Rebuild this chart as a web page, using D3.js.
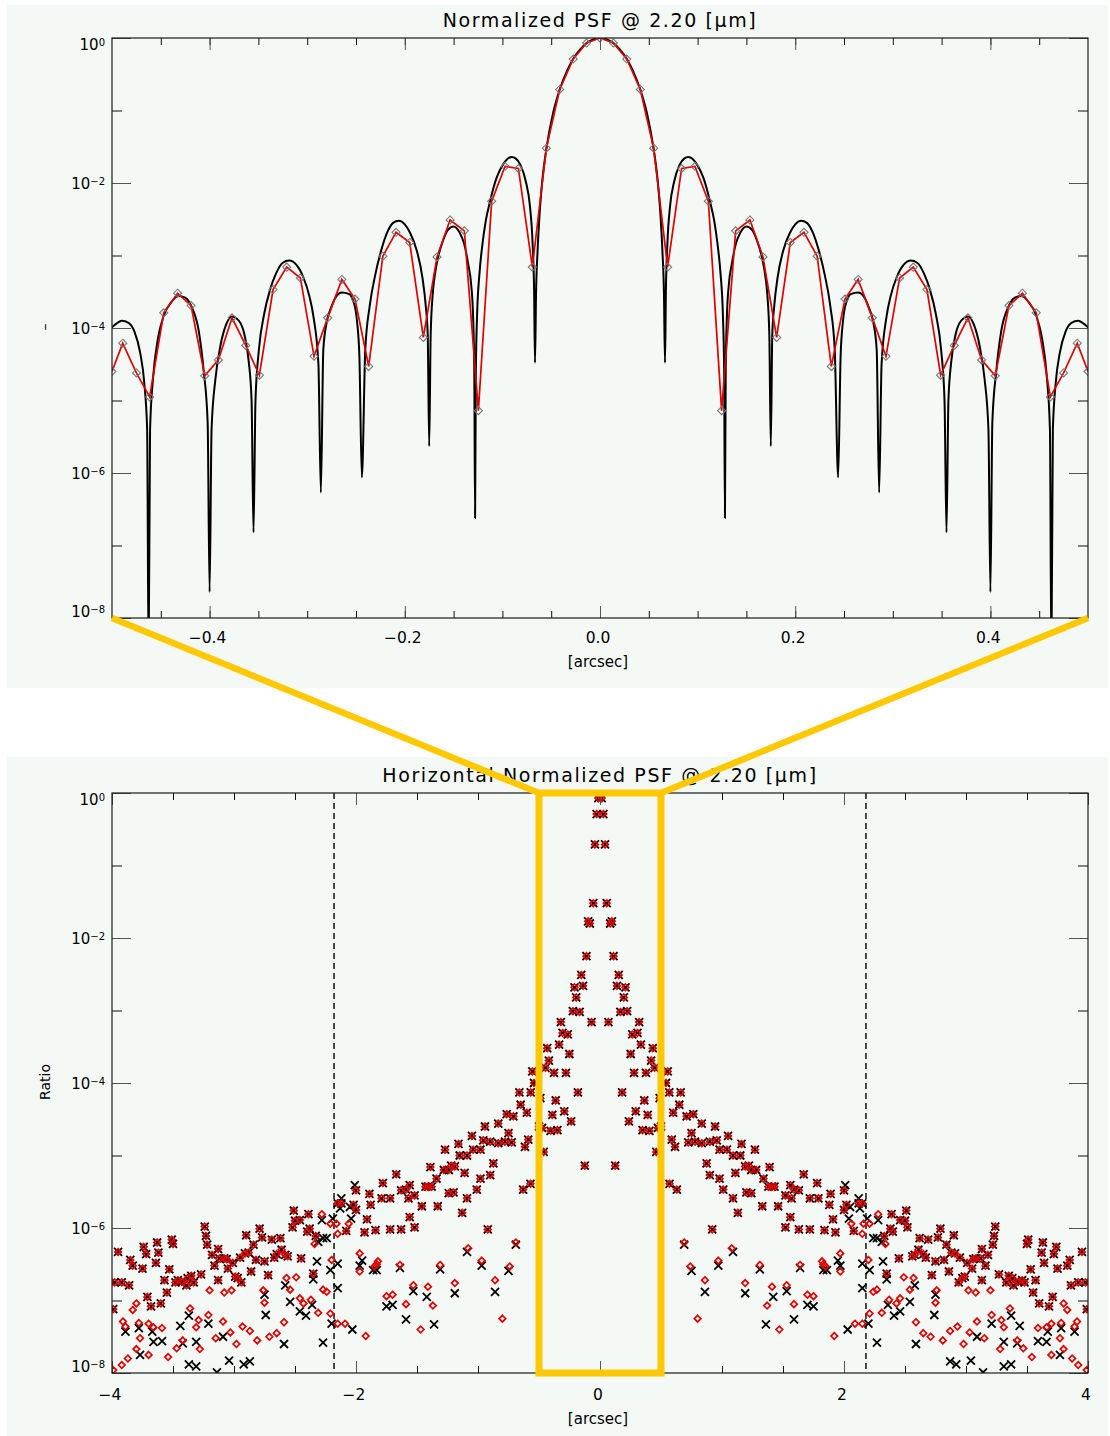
<!DOCTYPE html>
<html>
<head>
<meta charset="utf-8">
<script src="https://cdn.jsdelivr.net/npm/d3@7"></script>
<style>
  body { margin: 0; background: #ffffff; }
  svg { display: block; }
  text { font-family: "DejaVu Sans", sans-serif; fill: #000; }
</style>
</head>
<body>
<svg id="chart" width="1110" height="1436"></svg>
<script>
// ---------------------------------------------------------------------------
// Data (values are log10 of the normalised intensity)
// ---------------------------------------------------------------------------

// Diffraction-limited model profile, x in arcsec
const modelProfile = [
  [-0.5,-3.99],[-0.4965,-3.95],[-0.49,-3.9],[-0.483,-3.93],[-0.477,-4.05],[-0.471,-4.35],[-0.467,-4.75],[-0.464,-5.4],[-0.4625,-8.6],[-0.461,-5.4],[-0.458,-4.7],[-0.453,-4.15],[-0.447,-3.83],[-0.439,-3.64],[-0.432,-3.56],[-0.425,-3.58],[-0.418,-3.72],[-0.411,-4.05],[-0.406,-4.6],[-0.402,-5.3],[-0.4,-7.64],[-0.398,-5.4],[-0.394,-4.7],[-0.389,-4.25],[-0.383,-3.95],[-0.377,-3.84],[-0.37,-3.9],[-0.3645,-4.08],[-0.36,-4.45],[-0.357,-5],[-0.355,-6.82],[-0.353,-5],[-0.3495,-4.3],[-0.344,-3.8],[-0.338,-3.47],[-0.332,-3.25],[-0.325,-3.1],[-0.3184,-3.07],[-0.311,-3.13],[-0.304,-3.3],[-0.298,-3.55],[-0.2935,-3.85],[-0.2885,-4.5],[-0.286,-6.27],[-0.2835,-4.3],[-0.28,-3.92],[-0.2755,-3.72],[-0.27,-3.56],[-0.2645,-3.51],[-0.2575,-3.53],[-0.2525,-3.64],[-0.249,-3.9],[-0.2465,-4.4],[-0.244,-6.06],[-0.2405,-4.3],[-0.236,-3.7],[-0.23,-3.25],[-0.224,-2.92],[-0.218,-2.68],[-0.212,-2.55],[-0.206,-2.52],[-0.2,-2.57],[-0.1945,-2.69],[-0.188,-2.92],[-0.182,-3.3],[-0.1785,-3.7],[-0.1765,-4.1],[-0.175,-5.63],[-0.1735,-4.1],[-0.1715,-3.55],[-0.169,-3.25],[-0.1655,-3],[-0.161,-2.8],[-0.156,-2.65],[-0.15,-2.6],[-0.144,-2.68],[-0.139,-2.85],[-0.135,-3.12],[-0.132,-3.4],[-0.13,-3.85],[-0.1288,-4.6],[-0.128,-6.62],[-0.1272,-4.6],[-0.126,-3.85],[-0.1235,-3.25],[-0.1205,-2.85],[-0.117,-2.52],[-0.1126,-2.25],[-0.106,-1.93],[-0.1,-1.76],[-0.095,-1.67],[-0.0904,-1.64],[-0.0865,-1.66],[-0.0815,-1.75],[-0.076,-1.98],[-0.0717,-2.33],[-0.069,-2.85],[-0.0675,-3.5],[-0.0666,-4.48],[-0.0655,-3.5],[-0.064,-2.95],[-0.062,-2.45],[-0.059,-1.95],[-0.0546,-1.5],[-0.048,-1.03],[-0.041,-0.7],[-0.034,-0.46],[-0.0274,-0.285],[-0.0205,-0.16],[-0.0137,-0.07],[-0.007,-0.02],
  [0,0],
  [0.007,-0.02],[0.0137,-0.07],[0.0205,-0.16],[0.0274,-0.285],[0.034,-0.46],[0.041,-0.7],[0.048,-1.03],[0.0546,-1.5],[0.059,-1.95],[0.062,-2.45],[0.064,-2.95],[0.0655,-3.5],[0.0666,-4.48],[0.0675,-3.5],[0.069,-2.85],[0.0717,-2.33],[0.076,-1.98],[0.0815,-1.75],[0.0865,-1.66],[0.0904,-1.64],[0.095,-1.67],[0.1,-1.76],[0.106,-1.93],[0.1126,-2.25],[0.117,-2.52],[0.1205,-2.85],[0.1235,-3.25],[0.126,-3.85],[0.1272,-4.6],[0.128,-6.62],[0.1288,-4.6],[0.13,-3.85],[0.132,-3.4],[0.135,-3.12],[0.139,-2.85],[0.144,-2.68],[0.15,-2.6],[0.156,-2.65],[0.161,-2.8],[0.1655,-3],[0.169,-3.25],[0.1715,-3.55],[0.1735,-4.1],[0.175,-5.63],[0.1765,-4.1],[0.1785,-3.7],[0.182,-3.3],[0.188,-2.92],[0.1945,-2.69],[0.2,-2.57],[0.206,-2.52],[0.212,-2.55],[0.218,-2.68],[0.224,-2.92],[0.23,-3.25],[0.236,-3.7],[0.2405,-4.3],[0.244,-6.06],[0.2465,-4.4],[0.249,-3.9],[0.2525,-3.64],[0.2575,-3.53],[0.2645,-3.51],[0.27,-3.56],[0.2755,-3.72],[0.28,-3.92],[0.2835,-4.3],[0.286,-6.27],[0.2885,-4.5],[0.2935,-3.85],[0.298,-3.55],[0.304,-3.3],[0.311,-3.13],[0.3184,-3.07],[0.325,-3.1],[0.332,-3.25],[0.338,-3.47],[0.344,-3.8],[0.3495,-4.3],[0.353,-5],[0.355,-6.82],[0.357,-5],[0.36,-4.45],[0.3645,-4.08],[0.37,-3.9],[0.377,-3.84],[0.383,-3.95],[0.389,-4.25],[0.394,-4.7],[0.398,-5.4],[0.4,-7.64],[0.402,-5.3],[0.406,-4.6],[0.411,-4.05],[0.418,-3.72],[0.425,-3.58],[0.432,-3.56],[0.439,-3.64],[0.447,-3.83],[0.453,-4.15],[0.458,-4.7],[0.461,-5.4],[0.4625,-8.6],[0.464,-5.4],[0.467,-4.75],[0.471,-4.35],[0.477,-4.05],[0.483,-3.93],[0.49,-3.9],[0.4965,-3.95],[0.5,-3.99]
];

// Pixel-sampled profile along the horizontal cut (one value per detector pixel)
const sampledProfile = [
  [-0.5,-4.6],[-0.489,-4.21],[-0.475,-4.62],[-0.4614,-4.95],[-0.447,-3.79],[-0.4328,-3.52],[-0.419,-3.69],[-0.405,-4.66],[-0.391,-4.44],[-0.377,-3.86],[-0.363,-4.24],[-0.349,-4.65],[-0.335,-3.47],[-0.321,-3.16],[-0.307,-3.31],[-0.293,-4.39],[-0.279,-3.86],[-0.2645,-3.33],[-0.251,-3.6],[-0.237,-4.53],[-0.2225,-3.01],[-0.209,-2.68],[-0.195,-2.82],[-0.181,-4.13],[-0.167,-3.02],[-0.1536,-2.51],[-0.139,-2.66],[-0.1246,-5.14],[-0.111,-2.25],[-0.0973,-1.77],[-0.0836,-1.8],[-0.0693,-3.16],[-0.055,-1.52],[-0.0413,-0.71],[-0.0274,-0.29],[-0.0137,-0.07],
  [0,0],
  [0.0137,-0.07],[0.0274,-0.29],[0.0413,-0.71],[0.055,-1.52],[0.0693,-3.16],[0.0836,-1.8],[0.0973,-1.77],[0.111,-2.25],[0.1246,-5.14],[0.139,-2.66],[0.1536,-2.51],[0.167,-3.02],[0.181,-4.13],[0.195,-2.82],[0.209,-2.68],[0.2225,-3.01],[0.237,-4.53],[0.251,-3.6],[0.2645,-3.33],[0.279,-3.86],[0.293,-4.39],[0.307,-3.31],[0.321,-3.16],[0.335,-3.47],[0.349,-4.65],[0.363,-4.24],[0.377,-3.86],[0.391,-4.44],[0.405,-4.66],[0.419,-3.69],[0.4328,-3.52],[0.447,-3.79],[0.4614,-4.95],[0.475,-4.62],[0.489,-4.21],[0.5,-4.6]
];

// Halo pixels where both estimates agree (black cross and red diamond)
const wingBoth = [
  [-0.555,-3.84],[-0.541,-4],[-0.661,-4.13],[-0.568,-4.13],[-0.65,-4.3],[-0.765,-4.43],[-0.71,-4.46],[-0.6,-4.41],[-0.943,-4.6],[-0.834,-4.56],[-0.75,-4.69],[-0.957,-4.79],[-0.9,-4.81],[-0.834,-4.83],[-0.779,-4.81],[-0.724,-4.82],[-0.588,-4.78],[-0.615,-4.88],[-0.874,-5.11],[-0.9,-5.27],[-0.63,-5.47],[-0.57,-5.39],[-0.92,-6.02],[-1.01,-5.47],
  [-1.05,-4.73],[-1.16,-4.84],[-1.04,-4.92],[-0.98,-4.92],[-1.15,-5],[-1.09,-5],[-1.27,-4.92],[-1.28,-5.2],[-1.24,-5.2],[-1.22,-5.14],[-1.19,-5.15],[-1.11,-5.24],[-0.98,-5.32],[-1.39,-5.16],[-1.34,-5.32],[-1.2,-5.51],[-1.09,-5.59],[-1.13,-5.79],[-1.24,-5.52],[-1.33,-5.7],[-1.43,-5.43],[-1.41,-5.43],[-1.38,-5.43],[-1.46,-5.7],[-1.52,-5.55],[-1.52,-5.99],[-1.56,-5.41],[-1.59,-5.47],[-1.57,-5.59],[-1.63,-5.48],[-1.67,-5.26],[-1.72,-5.59],[-1.78,-5.38],[-1.79,-5.59],[-1.56,-5.85],[-1.63,-6.02],[-1.72,-6.02],[-1.84,-6.03],[-1.89,-5.53],[-1.88,-5.68],[-1.91,-5.88],[-1.93,-6.06],[-2,-5.48],[-2.02,-5.68],[-2,-5.75],[-2.08,-6.04],[-2.15,-5.66],[-2.12,-5.66],[-2.33,-6.11],[-2.35,-6.63],[-2.38,-6.01],[-2.39,-5.81],[-2.4,-6.05],[-2.46,-5.89],[-2.45,-6.42],[-2.5,-5.9],[-2.52,-5.99],[-2.51,-5.76],[-2.56,-6.39],[-2.58,-6.37],[-2.61,-6.3],[-2.62,-6.14],[-2.65,-6.36],[-2.67,-6.41],[-2.69,-6.16],[-2.72,-6.65],[-2.75,-6.46],[-2.77,-6.13],[-2.79,-6.01],[-2.82,-6.44],[-2.84,-6.23],[-2.86,-6.6],[-2.88,-6.34],[-2.91,-6.35],[-2.9,-6.1],[-2.94,-6.75],[-2.95,-6.41],[-2.99,-6.67],[-2.97,-6.69],[-3.01,-6.48],[-3.05,-6.56],[-3.06,-6.43],[-3.08,-6.42],[-3.12,-6.42],[-3.13,-6.29],[-3.13,-6.72],[-3.16,-6.52],[-3.18,-6.37],[-3.22,-6.23],[-3.23,-6.11],[-3.24,-5.98],[-3.27,-6.64],[-3.33,-6.75],[-3.35,-6.66],[-3.38,-6.69],[-3.39,-6.79],[-3.43,-6.74],[-3.46,-6.72],[-3.48,-6.75],[-3.5,-6.22],[-3.51,-6.16],[-3.53,-6.57],[-3.55,-6.89],[-3.57,-6.72],[-3.6,-7.04],[-3.62,-6.34],[-3.63,-6.2],[-3.64,-6.48],[-3.68,-7.08],[-3.71,-6.95],[-3.72,-6.36],[-3.74,-6.26],[-3.75,-6.56],[-3.83,-6.52],[-3.85,-6.44],[-3.86,-6.79],[-3.92,-6.75],[-3.98,-6.75],[-3.95,-6.33],[-3.99,-7.12],
  [0.555,-3.84],[0.541,-4],[0.661,-4.13],[0.568,-4.13],[0.65,-4.3],[0.765,-4.43],[0.71,-4.46],[0.6,-4.41],[0.943,-4.6],[0.834,-4.56],[0.75,-4.69],[0.957,-4.79],[0.9,-4.81],[0.834,-4.83],[0.779,-4.81],[0.724,-4.82],[0.588,-4.78],[0.615,-4.88],[0.874,-5.11],[0.9,-5.27],[0.63,-5.47],[0.57,-5.39],[0.92,-6.02],[1.01,-5.47],
  [1.05,-4.73],[1.16,-4.84],[1.04,-4.92],[0.98,-4.92],[1.15,-5],[1.09,-5],[1.27,-4.92],[1.28,-5.2],[1.24,-5.2],[1.22,-5.14],[1.19,-5.15],[1.11,-5.24],[0.98,-5.32],[1.39,-5.16],[1.34,-5.32],[1.2,-5.51],[1.09,-5.59],[1.13,-5.79],[1.24,-5.52],[1.33,-5.7],[1.43,-5.43],[1.41,-5.43],[1.38,-5.43],[1.46,-5.7],[1.52,-5.55],[1.52,-5.99],[1.56,-5.41],[1.59,-5.47],[1.57,-5.59],[1.63,-5.48],[1.67,-5.26],[1.72,-5.59],[1.78,-5.38],[1.79,-5.59],[1.56,-5.85],[1.63,-6.02],[1.72,-6.02],[1.84,-6.03],[1.89,-5.53],[1.88,-5.68],[1.91,-5.88],[1.93,-6.06],[2,-5.48],[2.02,-5.68],[2,-5.75],[2.08,-6.04],[2.15,-5.66],[2.12,-5.66],[2.33,-6.11],[2.35,-6.63],[2.38,-6.01],[2.39,-5.81],[2.4,-6.05],[2.46,-5.89],[2.45,-6.42],[2.5,-5.9],[2.52,-5.99],[2.51,-5.76],[2.56,-6.39],[2.58,-6.37],[2.61,-6.3],[2.62,-6.14],[2.65,-6.36],[2.67,-6.41],[2.69,-6.16],[2.72,-6.65],[2.75,-6.46],[2.77,-6.13],[2.79,-6.01],[2.82,-6.44],[2.84,-6.23],[2.86,-6.6],[2.88,-6.34],[2.91,-6.35],[2.9,-6.1],[2.94,-6.75],[2.95,-6.41],[2.99,-6.67],[2.97,-6.69],[3.01,-6.48],[3.05,-6.56],[3.06,-6.43],[3.08,-6.42],[3.12,-6.42],[3.13,-6.29],[3.13,-6.72],[3.16,-6.52],[3.18,-6.37],[3.22,-6.23],[3.23,-6.11],[3.24,-5.98],[3.27,-6.64],[3.33,-6.75],[3.35,-6.66],[3.38,-6.69],[3.39,-6.79],[3.43,-6.74],[3.46,-6.72],[3.48,-6.75],[3.5,-6.22],[3.51,-6.16],[3.53,-6.57],[3.55,-6.89],[3.57,-6.72],[3.6,-7.04],[3.62,-6.34],[3.63,-6.2],[3.64,-6.48],[3.68,-7.08],[3.71,-6.95],[3.72,-6.36],[3.74,-6.26],[3.75,-6.56],[3.83,-6.52],[3.85,-6.44],[3.86,-6.79],[3.92,-6.75],[3.98,-6.75],[3.95,-6.33],[3.99,-7.12]
];

// Halo pixels seen only in the red estimate
const wingRed = [
  [-3.91,-7.29],[-3.89,-7.36],[-3.8,-7.04],[-3.83,-7.13],[-3.78,-7.31],[-3.77,-7.52],[-3.7,-7.32],[-3.66,-7.37],[-3.59,-7.38],[-3.99,-7.96],[-3.92,-7.89],[-3.87,-7.8],[-3.8,-7.67],[-3.7,-7.75],[-3.54,-7.78],[-3.47,-7.66],[-3.42,-7.55],[-3.36,-7.11],[-3.29,-7.27],[-3.31,-7.37],[-3.28,-7.67],[-3.21,-7.2],[-3.15,-7.52],[-3.09,-7.29],[-3.03,-7.44],[-2.98,-7.6],[-2.93,-7.36],[-2.87,-7.42],[-2.81,-7.55],[-2.71,-7.5],[-2.65,-7.45],[-2.59,-7.3],[-3.2,-6.86],[-3.08,-6.89],[-3.02,-6.86],[-2.76,-6.86],[-2.75,-7.03],[-2.57,-6.69],[-2.54,-6.85],[-2.49,-6.68],[-2.46,-6.97],[-2.43,-7.04],[-2.37,-6.99],[-2.31,-7.17],[-2.27,-6.85],[-2.24,-6.88],[-2.21,-7.18],[-2.2,-6.44],[-2.15,-7.32],[-2.09,-7.32],[-1.92,-7.49],[-1.97,-6.35],[-1.97,-6.6],[-1.85,-6.53],[-1.83,-6.5],[-1.82,-6.46],[-1.75,-6.94],[-1.7,-6.92],[-1.64,-6.51],[-1.59,-7.05],[-1.53,-6.79],[-1.47,-7.4],[-1.41,-6.81],[-1.37,-7.07],[-1.31,-6.51],[-1.19,-6.76],[-1.08,-6.28],[-0.97,-6.45],[-0.86,-6.72],[-0.8,-7.25],[-0.74,-6.53],[-0.69,-6.2],[-2.06,-5.94],[-2.16,-5.94],[-2.15,-6.08],[-2.21,-5.94],[-2.28,-5.81],[-2.34,-6.22],
  [3.91,-7.29],[3.89,-7.36],[3.8,-7.04],[3.83,-7.13],[3.78,-7.31],[3.77,-7.52],[3.7,-7.32],[3.66,-7.37],[3.59,-7.38],[3.99,-7.96],[3.92,-7.89],[3.87,-7.8],[3.8,-7.67],[3.7,-7.75],[3.54,-7.78],[3.47,-7.66],[3.42,-7.55],[3.36,-7.11],[3.29,-7.27],[3.31,-7.37],[3.28,-7.67],[3.21,-7.2],[3.15,-7.52],[3.09,-7.29],[3.03,-7.44],[2.98,-7.6],[2.93,-7.36],[2.87,-7.42],[2.81,-7.55],[2.71,-7.5],[2.65,-7.45],[2.59,-7.3],[3.2,-6.86],[3.08,-6.89],[3.02,-6.86],[2.76,-6.86],[2.75,-7.03],[2.57,-6.69],[2.54,-6.85],[2.49,-6.68],[2.46,-6.97],[2.43,-7.04],[2.37,-6.99],[2.31,-7.17],[2.27,-6.85],[2.24,-6.88],[2.21,-7.18],[2.2,-6.44],[2.15,-7.32],[2.09,-7.32],[1.92,-7.49],[1.97,-6.35],[1.97,-6.6],[1.85,-6.53],[1.83,-6.5],[1.82,-6.46],[1.75,-6.94],[1.7,-6.92],[1.64,-6.51],[1.59,-7.05],[1.53,-6.79],[1.47,-7.4],[1.41,-6.81],[1.37,-7.07],[1.31,-6.51],[1.19,-6.76],[1.08,-6.28],[0.97,-6.45],[0.86,-6.72],[0.8,-7.25],[0.74,-6.53],[0.69,-6.2],[2.06,-5.94],[2.16,-5.94],[2.15,-6.08],[2.21,-5.94],[2.28,-5.81],[2.34,-6.22]
];

// Halo pixels seen only in the black estimate
const wingBlack = [
  [-3.89,-7.43],[-3.78,-7.38],[-3.77,-7.75],[-3.67,-7.43],[-3.66,-7.57],[-3.59,-7.56],[-3.44,-7.35],[-3.42,-7.59],[-3.37,-7.21],[-3.37,-7.88],[-3.31,-7.91],[-3.31,-7.57],[-3.21,-7.32],[-3.09,-7.5],[-3.04,-7.83],[-2.92,-7.88],[-2.87,-7.84],[-2.74,-7.2],[-2.59,-7.6],[-2.75,-6.92],[-2.58,-6.79],[-2.54,-7.02],[-2.46,-7.15],[-2.41,-7.21],[-2.35,-6.71],[-2.36,-7.06],[-2.32,-6.46],[-2.27,-7.58],[-2.21,-6.58],[-2.2,-7.32],[-2.15,-6.49],[-2.15,-6.83],[-2.03,-7.4],[-1.95,-6.45],[-1.97,-6.52],[-1.86,-6.58],[-1.83,-6.58],[-1.75,-7.08],[-1.7,-7.06],[-1.64,-6.55],[-1.59,-7.26],[-1.53,-6.87],[-1.42,-6.95],[-1.36,-7.33],[-1.31,-6.57],[-1.19,-6.9],[-1.09,-6.33],[-0.97,-6.52],[-0.86,-6.88],[-0.75,-6.59],[-0.69,-6.23],[-2.28,-5.89],[-2.12,-5.59],[-2.05,-5.71],[-2.04,-5.87],[-2.24,-6.14],[-2.27,-6.14],[-2.31,-6.19],[-2.01,-5.41],[-2.13,-5.73],[-2.19,-5.87],[-3.14,-7.99],
  [3.89,-7.43],[3.78,-7.38],[3.77,-7.75],[3.67,-7.43],[3.66,-7.57],[3.59,-7.56],[3.44,-7.35],[3.42,-7.59],[3.37,-7.21],[3.37,-7.88],[3.31,-7.91],[3.31,-7.57],[3.21,-7.32],[3.09,-7.5],[3.04,-7.83],[2.92,-7.88],[2.87,-7.84],[2.74,-7.2],[2.59,-7.6],[2.75,-6.92],[2.58,-6.79],[2.54,-7.02],[2.46,-7.15],[2.41,-7.21],[2.35,-6.71],[2.36,-7.06],[2.32,-6.46],[2.27,-7.58],[2.21,-6.58],[2.2,-7.32],[2.15,-6.49],[2.15,-6.83],[2.03,-7.4],[1.95,-6.45],[1.97,-6.52],[1.86,-6.58],[1.83,-6.58],[1.75,-7.08],[1.7,-7.06],[1.64,-6.55],[1.59,-7.26],[1.53,-6.87],[1.42,-6.95],[1.36,-7.33],[1.31,-6.57],[1.19,-6.9],[1.09,-6.33],[0.97,-6.52],[0.86,-6.88],[0.75,-6.59],[0.69,-6.23],[2.28,-5.89],[2.12,-5.59],[2.05,-5.71],[2.04,-5.87],[2.24,-6.14],[2.27,-6.14],[2.31,-6.19],[2.01,-5.41],[2.13,-5.73],[2.19,-5.87],[3.14,-7.99]
];

// Control-radius markers (arcsec) and the zoomed window (arcsec)
const controlRadius = [-2.18, 2.18];
const zoomWindow = [-0.5, 0.5];

// Axis ticks and labels
const decadeExponents = [0, -1, -2, -3, -4, -5, -6, -7, -8];
const labelledExponents = [0, -2, -4, -6, -8];
const topMinorTicks = [-0.45,-0.4,-0.35,-0.3,-0.25,-0.2,-0.15,-0.1,-0.05,0,0.05,0.1,0.15,0.2,0.25,0.3,0.35,0.4,0.45];
const topMajorTicks = [-0.4, -0.2, 0, 0.2, 0.4];
const topTickLabels = ["\u22120.4", "\u22120.2", "0.0", "0.2", "0.4"];
const botMinorTicks = [-3.5,-3,-2.5,-2,-1.5,-1,-0.5,0,0.5,1,1.5,2,2.5,3,3.5];
const botMajorTicks = [-4, -2, 0, 2, 4];
const botTickLabels = ["\u22124", "\u22122", "0", "2", "4"];

// ---------------------------------------------------------------------------
// Layout
// ---------------------------------------------------------------------------
const PANEL = "#f4f9f5";
const RED = "#e00000";
const GOLD = "#ffc800";

const svg = d3.select("#chart");
svg.append("rect").attr("x", 7).attr("y", 5).attr("width", 1101).attr("height", 683).attr("fill", PANEL);
svg.append("rect").attr("x", 7).attr("y", 757).attr("width", 1101).attr("height", 679).attr("fill", PANEL);

const topX = d3.scaleLinear().domain([-0.5, 0.5]).range([112, 1088]);
const topY = d3.scaleLog().domain([1e-8, 1]).range([618, 38]);
const botX = d3.scaleLinear().domain([-4, 4]).range([112, 1088]);
const botY = d3.scaleLog().domain([1e-8, 1]).range([1373, 793]);

const pow = e => Math.pow(10, e);

function addClip(id, x, y) {
  const [x0, x1] = x.range(), [y0, y1] = y.range();
  svg.append("clipPath").attr("id", id)
    .append("rect").attr("x", x0).attr("y", y1).attr("width", x1 - x0).attr("height", y0 - y1);
}

function drawFrame(x, y, minor, major) {
  const [x0, x1] = x.range(), [y0, y1] = y.range();
  const g = svg.append("g");
  const tickSet = (axisFn, scale, values, len, tx, ty, color) => {
    g.append("g").attr("transform", `translate(${tx},${ty})`)
      .call(axisFn(scale).tickValues(values).tickSize(-len).tickSizeOuter(0).tickFormat(""))
      .call(s => s.select(".domain").remove())
      .selectAll("line").attr("stroke", color).attr("stroke-width", 1);
  };
  const yMinor = decadeExponents.filter(e => e % 2 !== 0).map(pow);
  const yMajor = labelledExponents.map(pow);
  tickSet(d3.axisBottom, x, minor, 7, 0, y0, "#111");
  tickSet(d3.axisBottom, x, major, 12, 0, y0, "#555");
  tickSet(d3.axisTop, x, minor, 7, 0, y1, "#111");
  tickSet(d3.axisTop, x, major, 12, 0, y1, "#555");
  tickSet(d3.axisLeft, y, yMinor, 10, x0, 0, "#111");
  tickSet(d3.axisLeft, y, yMajor, 19, x0, 0, "#555");
  tickSet(d3.axisRight, y, yMinor, 10, x1, 0, "#111");
  tickSet(d3.axisRight, y, yMajor, 19, x1, 0, "#555");
  g.append("rect").attr("x", x0).attr("y", y1).attr("width", x1 - x0).attr("height", y0 - y1)
    .attr("fill", "none").attr("stroke", "#1a1a1a").attr("stroke-width", 1.2);
}

function drawYLabels(y, x0) {
  labelledExponents.forEach(e => {
    const ty = y(pow(e));
    const base = e === 0 ? ty + 12 : (e === -8 ? ty - 1 : ty + 6);
    const t = svg.append("text").attr("x", x0 - 7).attr("y", base)
      .attr("text-anchor", "end").style("font-size", "15px");
    t.append("tspan").text("10");
    t.append("tspan").attr("dy", -4).style("font-size", "10px")
      .text(e === 0 ? "0" : "\u2212" + (-e));
  });
}

function drawXLabels(x, ticks, labels, baseline) {
  ticks.forEach((v, i) => {
    svg.append("text").attr("x", x(v) - 2).attr("y", baseline)
      .attr("text-anchor", "middle").style("font-size", "15.5px").text(labels[i]);
  });
}

function title(text, baseline) {
  svg.append("text").attr("x", 600).attr("y", baseline).attr("text-anchor", "middle")
    .style("font-size", "19px").style("letter-spacing", "1.6px").text(text);
}

const diamondPath = r => `M0,${-r}L${r},0L0,${r}L${-r},0Z`;
const crossPath = r => `M${-r},${-r}L${r},${r}M${-r},${r}L${r},${-r}`;

// ---------------------------------------------------------------------------
// Top panel: normalised PSF around the core
// ---------------------------------------------------------------------------
addClip("clipTop", topX, topY);
title("Normalized PSF @ 2.20 [\u03bcm]", 27);

const topPlot = svg.append("g").attr("clip-path", "url(#clipTop)");
topPlot.append("path").datum(modelProfile)
  .attr("fill", "none").attr("stroke", "#000").attr("stroke-width", 2).attr("stroke-linejoin", "round")
  .attr("d", d3.line().x(d => topX(d[0])).y(d => topY(pow(d[1]))).curve(d3.curveMonotoneX));
topPlot.append("path").datum(sampledProfile)
  .attr("fill", "none").attr("stroke", RED).attr("stroke-width", 1.7)
  .attr("d", d3.line().x(d => topX(d[0])).y(d => topY(pow(d[1]))));
topPlot.selectAll("path.samp").data(sampledProfile).join("path").attr("class", "samp")
  .attr("transform", d => `translate(${topX(d[0])},${topY(pow(d[1]))})`)
  .attr("d", diamondPath(4)).attr("fill", "none").attr("stroke", "#777").attr("stroke-width", 1.1);

drawFrame(topX, topY, topMinorTicks, topMajorTicks);
drawYLabels(topY, 112);
drawXLabels(topX, topMajorTicks, topTickLabels, 643);
svg.append("text").attr("x", 598).attr("y", 667).attr("text-anchor", "middle")
  .style("font-size", "15px").text("[arcsec]");
svg.append("text").attr("transform", "translate(45,327) rotate(-90)")
  .attr("text-anchor", "middle").attr("dy", "0.3em").style("font-size", "14px").text("\u2013");

// ---------------------------------------------------------------------------
// Bottom panel: horizontal cut over the full field
// ---------------------------------------------------------------------------
addClip("clipBot", botX, botY);
title("Horizontal Normalized PSF @ 2.20 [\u03bcm]", 782);

const botPlot = svg.append("g").attr("clip-path", "url(#clipBot)");
botPlot.selectAll("line.ctrl").data(controlRadius).join("line").attr("class", "ctrl")
  .attr("x1", d => botX(d)).attr("x2", d => botX(d))
  .attr("y1", botY(1)).attr("y2", botY(1e-8))
  .attr("stroke", "#000").attr("stroke-width", 1.4).attr("stroke-dasharray", "6,4");

const crosses = sampledProfile.concat(wingBoth, wingBlack);
const diamonds = sampledProfile.concat(wingBoth, wingRed);
botPlot.selectAll("path.cross").data(crosses).join("path").attr("class", "cross")
  .attr("transform", d => `translate(${botX(d[0])},${botY(pow(d[1]))})`)
  .attr("d", crossPath(4)).attr("fill", "none").attr("stroke", "#000").attr("stroke-width", 1.8);
botPlot.selectAll("path.dia").data(diamonds).join("path").attr("class", "dia")
  .attr("transform", d => `translate(${botX(d[0])},${botY(pow(d[1]))})`)
  .attr("d", diamondPath(3.3)).attr("fill", "none").attr("stroke", RED).attr("stroke-width", 1.7);

drawFrame(botX, botY, botMinorTicks, botMajorTicks);
drawYLabels(botY, 112);
drawXLabels(botX, botMajorTicks, botTickLabels, 1400);
svg.append("text").attr("x", 598).attr("y", 1424).attr("text-anchor", "middle")
  .style("font-size", "15px").text("[arcsec]");
svg.append("text").attr("transform", "translate(45,1082) rotate(-90)")
  .attr("text-anchor", "middle").attr("dy", "0.35em").style("font-size", "14px").text("Ratio");

// ---------------------------------------------------------------------------
// Zoom indicator linking the two panels
// ---------------------------------------------------------------------------
const zoom = svg.append("g").attr("fill", "none").attr("stroke", GOLD);
zoom.append("line")
  .attr("x1", topX(zoomWindow[0])).attr("y1", topY(1e-8))
  .attr("x2", botX(zoomWindow[0])).attr("y2", botY(1))
  .attr("stroke-width", 6.5);
zoom.append("line")
  .attr("x1", topX(zoomWindow[1])).attr("y1", topY(1e-8))
  .attr("x2", botX(zoomWindow[1])).attr("y2", botY(1))
  .attr("stroke-width", 6.5);
zoom.append("rect")
  .attr("x", botX(zoomWindow[0])).attr("y", botY(1))
  .attr("width", botX(zoomWindow[1]) - botX(zoomWindow[0]))
  .attr("height", botY(1e-8) - botY(1))
  .attr("stroke-width", 7);
</script>
</body>
</html>
